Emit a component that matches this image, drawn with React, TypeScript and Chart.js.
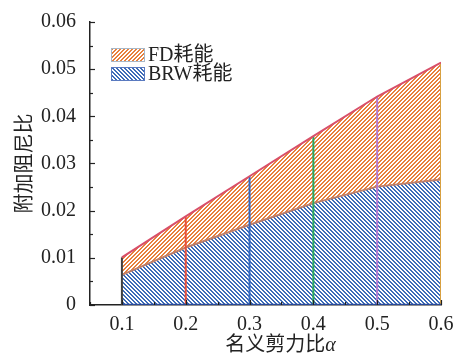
import React, { useEffect, useRef } from "react";
import { Chart, registerables } from "chart.js";

Chart.register(...registerables);

const alphaValues = [0.1, 0.2, 0.3, 0.4, 0.5, 0.6];
const totalDamping = [0.0101, 0.0188, 0.0273, 0.0358, 0.0442, 0.0514]; // FD + BRW
const brwDamping = [0.0064, 0.0122, 0.017, 0.0216, 0.0251, 0.0266];
const xTickValues = [0.1, 0.2, 0.3, 0.4, 0.5, 0.6];
const yTickValues = [0, 0.01, 0.02, 0.03, 0.04, 0.05, 0.06];
const verticalColors = ["#404040", "#e8503a", "#3468c0", "#2aa860", "#b47ad0", "#d8a040"];
const legendLabels = ["FD耗能", "BRW耗能"];
const xTitleMain = "名义剪力比";
const xTitleSym = "α";
const yTitle = "附加阻尼比";

const FONT = "'Liberation Serif', 'Noto Sans CJK SC', serif";

function makeHatch(color: string, dir: "/" | "\\"): CanvasPattern | string {
  const n = 4;
  const c = document.createElement("canvas");
  c.width = n;
  c.height = n;
  const g = c.getContext("2d");
  if (!g) return color;
  g.fillStyle = "#ffffff";
  g.fillRect(0, 0, n, n);
  g.fillStyle = color;
  for (let x = 0; x < n; x++) {
    for (let y = 0; y < n; y++) {
      const k = dir === "/" ? (x + y) % n : ((x - y) % n + n) % n;
      if (k === 0 || k === 1) g.fillRect(x, y, 1, 1);
    }
  }
  const p = g.createPattern(c, "repeat");
  return p || color;
}

export default function App() {
  const ref = useRef<HTMLCanvasElement | null>(null);

  useEffect(() => {
    document.body.style.margin = "0";
    const canvas = ref.current;
    if (!canvas) return;
    const orange = makeHatch("#e8803c", "/");
    const blue = makeHatch("#3d6cb8", "\\");

    const verticalSets = alphaValues.map((a, i) => ({
      label: "v" + i,
      data: [
        { x: a, y: 0 },
        { x: a, y: totalDamping[i] },
      ],
      borderColor: verticalColors[i],
      borderWidth: 2,
      pointRadius: 0,
      fill: false,
      order: 1,
    }));

    const decorPlugin = {
      id: "decor",
      afterDraw(chart: any) {
        const ctx = chart.ctx as CanvasRenderingContext2D;
        const xs = chart.scales.x;
        const ys = chart.scales.y;
        const area = chart.chartArea;
        ctx.save();
        ctx.strokeStyle = "#222";
        ctx.lineWidth = 1.2;
        // y ticks (inward)
        for (let v = 0; v <= 0.0601; v += 0.005) {
          const y = Math.round(ys.getPixelForValue(v)) + 0.5;
          const major = Math.abs(v / 0.01 - Math.round(v / 0.01)) < 1e-6;
          const len = major ? 5 : 3;
          ctx.beginPath();
          ctx.moveTo(area.left, y);
          ctx.lineTo(area.left + len, y);
          ctx.stroke();
        }
        // x ticks (inward)
        for (let v = 0.05; v <= 0.6001; v += 0.05) {
          const x = Math.round(xs.getPixelForValue(v)) + 0.5;
          const major = Math.abs(v / 0.1 - Math.round(v / 0.1)) < 1e-6;
          const len = major ? 5 : 3;
          ctx.beginPath();
          ctx.moveTo(x, area.bottom);
          ctx.lineTo(x, area.bottom - len);
          ctx.stroke();
        }
        // legend
        const fills = [orange, blue];
        const borders = ["#a8b8c8", "#5a7ac0"];
        const rows = [48, 67];
        ctx.textBaseline = "middle";
        ctx.textAlign = "left";
        for (let i = 0; i < 2; i++) {
          ctx.fillStyle = fills[i] as any;
          ctx.fillRect(111, rows[i], 34, 14);
          ctx.strokeStyle = borders[i];
          ctx.lineWidth = 1;
          ctx.strokeRect(111.5, rows[i] + 0.5, 33, 13);
          ctx.fillStyle = "#222";
          ctx.font = `20px ${FONT}`;
          ctx.fillText(legendLabels[i], 148, rows[i] + 8);
        }
        // x title with italic alpha
        ctx.font = `20px ${FONT}`;
        const w1 = ctx.measureText(xTitleMain).width;
        ctx.font = `italic 20px ${FONT}`;
        const w2 = ctx.measureText(xTitleSym).width;
        const cx = (area.left + area.right) / 2 + 15;
        const startX = cx - (w1 + w2) / 2;
        ctx.fillStyle = "#222";
        ctx.textBaseline = "middle";
        ctx.font = `20px ${FONT}`;
        ctx.fillText(xTitleMain, startX, 346);
        ctx.font = `italic 20px ${FONT}`;
        ctx.fillText(xTitleSym, startX + w1, 346);
        ctx.restore();
      },
    };

    const chart = new Chart(canvas, {
      type: "line",
      data: {
        datasets: [
          {
            label: legendLabels[0],
            data: alphaValues.map((a, i) => ({ x: a, y: totalDamping[i] })),
            borderColor: "#d8506a",
            borderWidth: 2,
            backgroundColor: orange as any,
            pointRadius: 0,
            fill: 1,
            order: 0,
          },
          {
            label: legendLabels[1],
            data: alphaValues.map((a, i) => ({ x: a, y: brwDamping[i] })),
            borderColor: "#c0806a",
            borderWidth: 2,
            backgroundColor: blue as any,
            pointRadius: 0,
            fill: "origin",
            order: 2,
          },
          {
            label: "base",
            data: alphaValues.map((a) => ({ x: a, y: 0 })),
            borderColor: "#2a4a9a",
            borderWidth: 2.5,
            pointRadius: 0,
            fill: false,
            order: 1,
          },
          ...verticalSets,
        ] as any,
      },
      options: {
        animation: false,
        responsive: false,
        layout: { padding: { left: 0, right: 19, top: 22, bottom: 0 } },
        plugins: {
          legend: { display: false },
          tooltip: { enabled: false },
          filler: { drawTime: "beforeDatasetsDraw" },
        } as any,
        scales: {
          x: {
            type: "linear",
            min: 0.05,
            max: 0.6,
            grid: { display: false },
            border: { display: true, color: "#222", width: 1.5 },
            afterBuildTicks: (s: any) => {
              s.ticks = xTickValues.map((v) => ({ value: v }));
            },
            afterFit: (s: any) => {
              s.height = 56;
            },
            ticks: {
              padding: 0,
              color: "#222",
              font: { family: FONT, size: 20 },
              maxRotation: 0,
              callback: (v: any) => Number(v).toFixed(1),
            },
            title: { display: false },
          },
          y: {
            type: "linear",
            min: 0,
            max: 0.06,
            grid: { display: false },
            border: { display: true, color: "#222", width: 1.5 },
            afterBuildTicks: (s: any) => {
              s.ticks = yTickValues.map((v) => ({ value: v }));
            },
            afterFit: (s: any) => {
              s.width = 90;
            },
            ticks: {
              padding: 6,
              color: "#222",
              font: { family: FONT, size: 20 },
              callback: (v: any) => (Number(v) === 0 ? "0" : Number(v).toFixed(2)),
            },
            title: {
              display: true,
              text: yTitle,
              color: "#222",
              font: { family: FONT, size: 20 },
              padding: { top: 14, bottom: 0 },
            },
          },
        },
      },
      plugins: [decorPlugin],
    });

    return () => chart.destroy();
  }, []);

  return (
    <div style={{ width: 460, height: 361, background: "#fff" }}>
      <canvas ref={ref} width={460} height={361} style={{ display: "block" }} />
    </div>
  );
}
